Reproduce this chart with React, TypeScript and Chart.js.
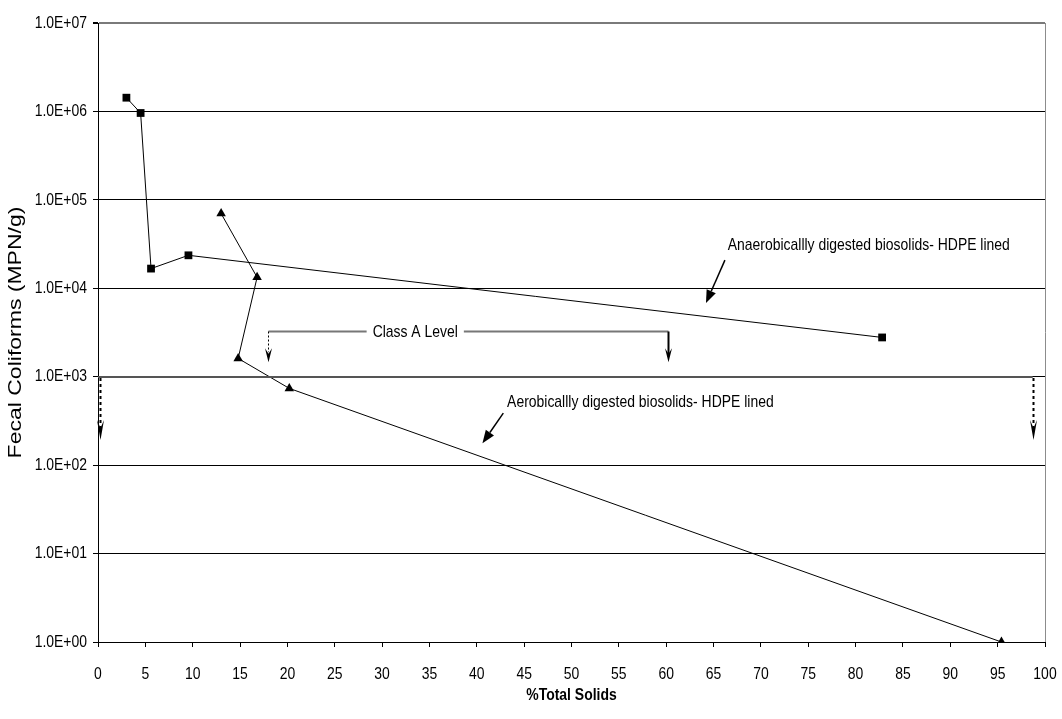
import { useEffect, useRef } from "react";
import { Chart, registerables } from "chart.js";

Chart.register(...registerables);

// ---- data ----
const anaerobicSolids = [3.0, 4.5, 5.6, 9.55, 82.8];
const anaerobicFC = [1.43e6, 9.6e5, 1.67e4, 2.36e4, 2.78e3];
const aerobicSolids = [13.0, 16.8, 14.8, 20.2, 95.4];
const aerobicFC = [7.0e4, 1.33e4, 1.61e3, 738, 1];
const yTickValues = [1, 10, 100, 1e3, 1e4, 1e5, 1e6, 1e7];
const xTickValues = [0, 5, 10, 15, 20, 25, 30, 35, 40, 45, 50, 55, 60, 65, 70, 75, 80, 85, 90, 95, 100];
const classALevel = 1000;
const anaerobicLabel = "Anaerobicallly digested biosolids- HDPE lined";
const aerobicLabel = "Aerobicallly digested biosolids- HDPE lined";
const classALabel = "Class A Level";
const xTitle = "%Total Solids";
const yTitle = "Fecal Coliforms (MPN/g)";

const FONT = '"Liberation Sans", Arial, sans-serif';
const FS = 17;
const SQUEEZE = 0.82;

function fmtExp(v: number) {
  const e = Math.round(Math.log10(v));
  return "1.0E+" + (e < 10 ? "0" + e : String(e));
}

function txt(
  ctx: CanvasRenderingContext2D,
  s: string,
  x: number,
  y: number,
  align: CanvasTextAlign,
  opts: { bold?: boolean; rotate?: number; size?: number } = {}
) {
  ctx.save();
  ctx.font = `${opts.bold ? "bold " : ""}${opts.size || FS}px ${FONT}`;
  ctx.textAlign = align;
  ctx.textBaseline = "middle";
  ctx.fillStyle = "#000";
  ctx.translate(x, y);
  if (opts.rotate) {
    ctx.rotate(opts.rotate);
    ctx.fillText(s, 0, 0);
  } else {
    ctx.scale(SQUEEZE, 1);
    ctx.fillText(s, 0, 0);
  }
  ctx.restore();
}

function textWidth(ctx: CanvasRenderingContext2D, s: string) {
  ctx.save();
  ctx.font = `${FS}px ${FONT}`;
  const w = ctx.measureText(s).width * SQUEEZE;
  ctx.restore();
  return w;
}

function dart(ctx: CanvasRenderingContext2D, x: number, tipY: number, len: number, half: number) {
  ctx.beginPath();
  ctx.moveTo(x, tipY);
  ctx.lineTo(x - half, tipY - len);
  ctx.lineTo(x, tipY - len * 0.6);
  ctx.lineTo(x + half, tipY - len);
  ctx.closePath();
  ctx.fill();
}

function arrowTo(ctx: CanvasRenderingContext2D, x1: number, y1: number, x2: number, y2: number) {
  const ang = Math.atan2(y2 - y1, x2 - x1);
  const L = 13, W = 5;
  const bx = x2 - Math.cos(ang) * L, by = y2 - Math.sin(ang) * L;
  ctx.beginPath();
  ctx.moveTo(x1, y1);
  ctx.lineTo(bx, by);
  ctx.stroke();
  ctx.beginPath();
  ctx.moveTo(x2, y2);
  ctx.lineTo(bx + Math.sin(ang) * W, by - Math.cos(ang) * W);
  ctx.lineTo(bx - Math.sin(ang) * W, by + Math.cos(ang) * W);
  ctx.closePath();
  ctx.fill();
}

const annotations = {
  id: "annotations",
  afterDraw(chart: any) {
    const { ctx, chartArea } = chart;
    const xs = chart.scales.x, ys = chart.scales.y;
    const X = (v: number) => xs.getPixelForValue(v);
    const Y = (v: number) => ys.getPixelForValue(v);
    ctx.save();

    // right border
    ctx.strokeStyle = "#8c8c8c";
    ctx.lineWidth = 1;
    ctx.beginPath();
    ctx.moveTo(chartArea.right + 0.5, chartArea.top);
    ctx.lineTo(chartArea.right + 0.5, chartArea.bottom);
    ctx.stroke();

    // tick labels
    for (const v of yTickValues) txt(ctx, fmtExp(v), xs.left - 11, Y(v), "right");
    for (const v of xTickValues) txt(ctx, String(v), X(v), 674, "center");

    // Class A level line
    const yL = Math.round(Y(classALevel));
    ctx.strokeStyle = "#555";
    ctx.lineWidth = 2;
    ctx.beginPath();
    ctx.moveTo(chartArea.left, yL);
    ctx.lineTo(X(98.7), yL);
    ctx.stroke();

    // side dotted arrows
    ctx.fillStyle = "#000";
    ctx.strokeStyle = "#000";
    for (const xv of [0.2, 98.7]) {
      const px = Math.round(X(xv)) + 0.5;
      const tip = Y(192);
      ctx.lineWidth = 2;
      ctx.setLineDash([3, 3]);
      ctx.beginPath();
      ctx.moveTo(px, yL + 1);
      ctx.lineTo(px, tip - 12);
      ctx.stroke();
      ctx.setLineDash([]);
      dart(ctx, px, tip, 20, 3.5);
    }

    // Class A bracket
    const bY = Math.round(Y(3330)) + 0.5;
    const bL = Math.round(X(18.0)) + 0.5;
    const bR = Math.round(X(60.2)) + 0.5;
    const tX = X(33.5);
    const tw = textWidth(ctx, classALabel);
    txt(ctx, classALabel, tX, Y(3200), "center");
    ctx.strokeStyle = "#777";
    ctx.lineWidth = 2;
    ctx.beginPath();
    ctx.moveTo(bL, bY);
    ctx.lineTo(tX - tw / 2 - 6, bY);
    ctx.moveTo(tX + tw / 2 + 6, bY);
    ctx.lineTo(bR, bY);
    ctx.stroke();
    const bTip = Y(1460);
    ctx.strokeStyle = "#000";
    ctx.lineWidth = 1;
    ctx.setLineDash([2, 2]);
    ctx.beginPath();
    ctx.moveTo(bL, bY);
    ctx.lineTo(bL, bTip - 10);
    ctx.stroke();
    ctx.setLineDash([]);
    ctx.lineWidth = 2;
    ctx.beginPath();
    ctx.moveTo(bR, bY);
    ctx.lineTo(bR, bTip - 8);
    ctx.stroke();
    ctx.lineWidth = 1;
    for (const px of [bL, bR]) dart(ctx, px, bTip, 14, 3.5);

    // series labels with arrows
    txt(ctx, anaerobicLabel, X(66.5), Y(3.08e4), "left");
    txt(ctx, aerobicLabel, X(43.2), Y(516), "left");
    ctx.fillStyle = "#000";
    ctx.strokeStyle = "#000";
    ctx.lineWidth = 1.5;
    arrowTo(ctx, X(66.2), Y(2.08e4), X(64.2), Y(6.8e3));
    arrowTo(ctx, X(42.8), Y(387), X(40.6), Y(177));

    // axis titles
    txt(ctx, xTitle, (chartArea.left + chartArea.right) / 2, 695, "center", { bold: true });
    ctx.save();
    ctx.translate(16, (chartArea.top + chartArea.bottom) / 2);
    ctx.scale(SQUEEZE, 1);
    txt(ctx, yTitle, 0, 0, "center", { rotate: -Math.PI / 2, size: 23 });
    ctx.restore();

    ctx.restore();
  },
};

export default function App() {
  const ref = useRef<HTMLCanvasElement | null>(null);
  useEffect(() => {
    if (!ref.current) return;
    const chart = new Chart(ref.current, {
      type: "scatter",
      data: {
        datasets: [
          {
            label: "Anaerobic",
            data: anaerobicSolids.map((x, i) => ({ x, y: anaerobicFC[i] })),
            showLine: true,
            borderColor: "#000",
            backgroundColor: "#000",
            borderWidth: 1,
            pointStyle: "rect",
            pointRadius: 5.5,
            pointBorderWidth: 0,
          },
          {
            label: "Aerobic",
            data: aerobicSolids.map((x, i) => ({ x, y: aerobicFC[i] })),
            showLine: true,
            borderColor: "#000",
            backgroundColor: "#000",
            borderWidth: 1,
            pointStyle: "triangle",
            pointRadius: 5.5,
            pointBorderWidth: 0,
          },
        ],
      },
      options: {
        responsive: false,
        animation: false,
        layout: { padding: { top: 23, right: 17, left: 0, bottom: 0 } },
        plugins: { legend: { display: false }, tooltip: { enabled: false } },
        scales: {
          x: {
            type: "linear",
            min: 0,
            max: 100,
            afterBuildTicks: (axis: any) => {
              axis.ticks = xTickValues.map((v) => ({ value: v }));
            },
            afterFit: (axis: any) => {
              axis.height = 77;
              axis.paddingLeft = 0;
              axis.paddingRight = 0;
            },
            grid: { drawOnChartArea: false, drawTicks: true, tickLength: 5, color: "#000" },
            border: { color: "#000", width: 1 },
            ticks: {
              color: "rgba(0,0,0,0)",
              padding: 10,
              maxRotation: 0,
              autoSkip: false,
              font: { family: FONT, size: 10 },
            },
          },
          y: {
            type: "logarithmic",
            min: 1,
            max: 1e7,
            afterBuildTicks: (axis: any) => {
              axis.ticks = yTickValues.map((v) => ({ value: v }));
            },
            afterFit: (axis: any) => {
              axis.width = 98;
              axis.paddingTop = 0;
              axis.paddingBottom = 0;
            },
            grid: {
              color: (c: any) => (c.tick && c.tick.value === 1e7 ? "#7a7a7a" : "#000"),
              lineWidth: (c: any) => (c.tick && c.tick.value === 1e7 ? 2 : 1),
              tickColor: "#000",
              tickLength: 5,
            },
            border: { color: "#000", width: 1 },
            ticks: {
              color: "rgba(0,0,0,0)",
              padding: 6,
              autoSkip: false,
              font: { family: FONT, size: 10 },
              callback: (v: any) => fmtExp(Number(v)),
            },
          },
        },
      },
      plugins: [annotations],
    });
    return () => chart.destroy();
  }, []);
  return (
    <div style={{ position: "absolute", left: 0, top: 0, width: 1062, height: 719, background: "#fff" }}>
      <canvas ref={ref} width={1062} height={719} style={{ width: 1062, height: 719, display: "block" }} />
    </div>
  );
}
